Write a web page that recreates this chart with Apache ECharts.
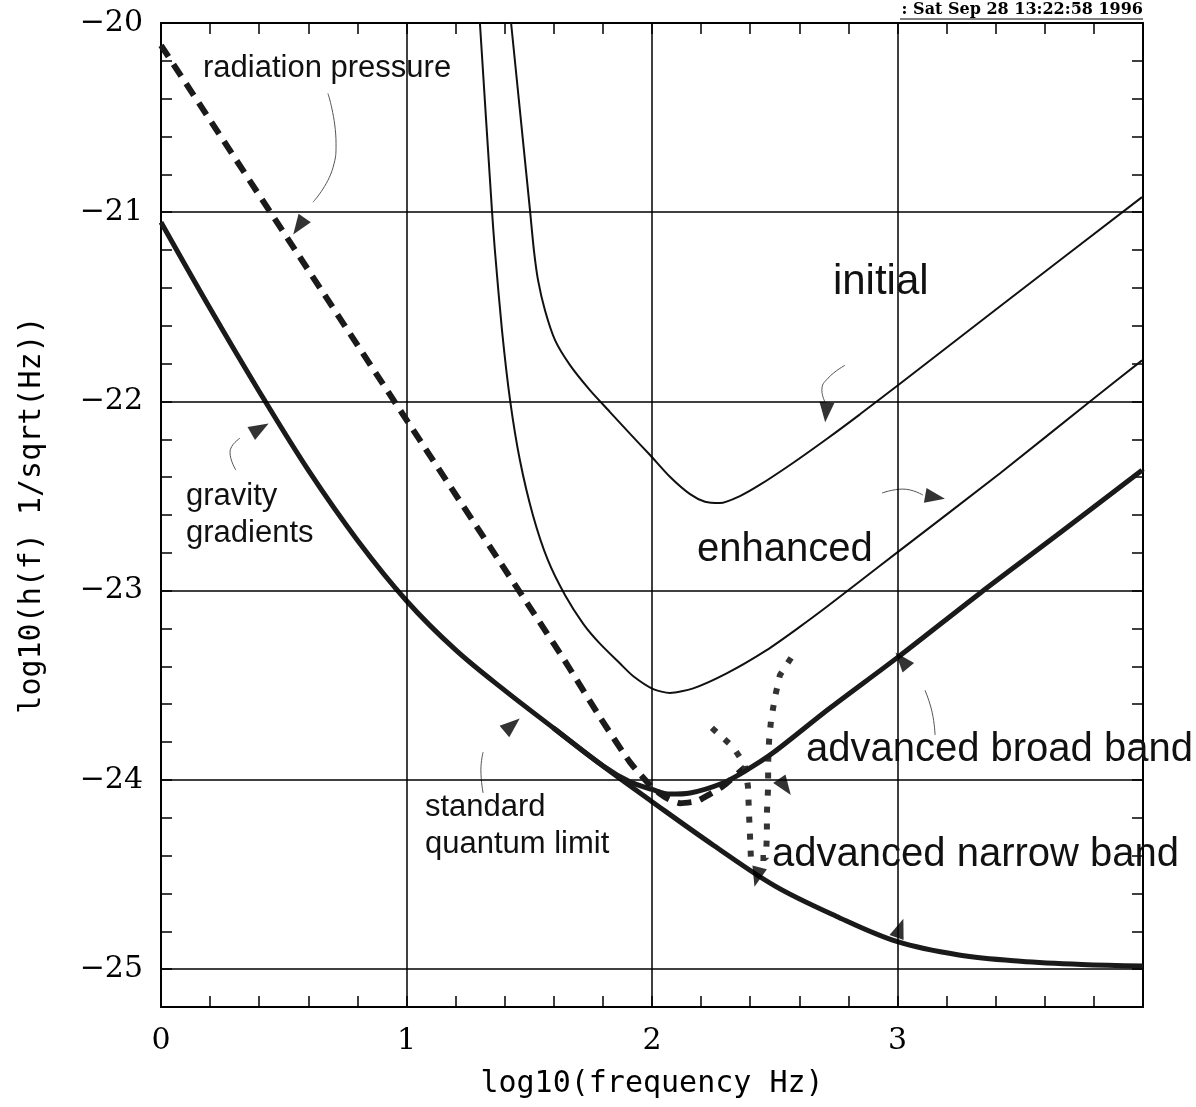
<!DOCTYPE html>
<html><head><meta charset="utf-8">
<script src="https://cdn.jsdelivr.net/npm/echarts@6/dist/echarts.min.js"></script>
<style>html,body{margin:0;padding:0;background:#fff}#c{width:1196px;height:1107px}</style>
</head><body><div id="c"></div>
<script>
// ---- data (x = log10 frequency, y = log10 h(f)) ----
const initialCurve = [[1.426,-20.000],[1.503,-20.989],[1.519,-21.201],[1.536,-21.360],[1.564,-21.518],[1.605,-21.676],[1.666,-21.808],[1.747,-21.940],[1.829,-22.056],[1.910,-22.170],[1.992,-22.283],[2.073,-22.398],[2.155,-22.490],[2.216,-22.530],[2.277,-22.537],[2.358,-22.500],[2.440,-22.440],[2.574,-22.325],[2.713,-22.197],[2.847,-22.068],[3.002,-21.914],[3.418,-21.497],[3.996,-20.920]];
const enhancedCurve = [[1.299,-20.000],[1.348,-20.989],[1.360,-21.201],[1.389,-21.624],[1.422,-21.994],[1.462,-22.311],[1.515,-22.601],[1.576,-22.839],[1.646,-23.024],[1.720,-23.175],[1.788,-23.280],[1.870,-23.385],[1.924,-23.452],[2.005,-23.520],[2.073,-23.540],[2.168,-23.516],[2.304,-23.437],[2.467,-23.314],[2.603,-23.190],[2.712,-23.085],[2.847,-22.950],[3.002,-22.795],[3.418,-22.379],[3.784,-22.000],[3.996,-21.783]];
const broadBandCurve = [[1.600,-23.727],[1.800,-23.925],[1.910,-24.010],[2.000,-24.050],[2.073,-24.075],[2.155,-24.069],[2.289,-24.016],[2.387,-23.947],[2.493,-23.857],[2.725,-23.620],[3.002,-23.351],[3.336,-23.013],[3.650,-22.706],[3.996,-22.363]];
const narrowBandCurve = [[2.244,-23.725],[2.330,-23.826],[2.379,-23.921],[2.391,-24.037],[2.395,-24.175],[2.399,-24.291],[2.403,-24.413],[2.464,-24.413],[2.468,-24.291],[2.468,-24.175],[2.473,-24.037],[2.473,-23.911],[2.477,-23.790],[2.485,-23.684],[2.501,-23.562],[2.521,-23.446],[2.574,-23.340]];
const radiationPressure = [[0.000,-20.118],[0.566,-21.238],[0.974,-22.046],[1.381,-22.849],[1.625,-23.330],[1.788,-23.668],[1.910,-23.906],[2.000,-24.038],[2.053,-24.091],[2.114,-24.123],[2.183,-24.112],[2.236,-24.075],[2.289,-24.033],[2.379,-23.933]];
const quantumLimit = [[0.000,-21.053],[0.200,-21.509],[0.400,-21.947],[0.600,-22.363],[0.800,-22.733],[1.000,-23.053],[1.200,-23.313],[1.400,-23.527],[1.600,-23.727],[1.800,-23.927],[2.000,-24.115],[2.250,-24.345],[2.500,-24.560],[2.750,-24.720],[3.000,-24.855],[3.250,-24.925],[3.500,-24.958],[3.750,-24.975],[4.000,-24.983]];

const xLabelValues = [0, 1, 2, 3];
const xLabelTexts = ['0', '1', '2', '3'];
const yLabelValues = [-20, -21, -22, -23, -24, -25];
const yLabelTexts = ['\u221220', '\u221221', '\u221222', '\u221223', '\u221224', '\u221225'];
const xGridValues = [1, 2, 3];
const yGridValues = [-21, -22, -23, -24, -25];

// annotations (data coordinates)
const arrowHeads = [[0.562,-21.074,145],[0.403,-22.143,-60],[1.430,-23.710,-50],[2.709,-22.057,175],[3.153,-22.505,-100],[3.018,-23.367,40],[2.542,-24.037,215],[2.428,-24.513,165],[3.010,-24.783,-20]];
const leaderRad = [[0.680,-20.372],[0.713,-20.636],[0.701,-20.762],[0.619,-20.947]];
const leaderGrav = [[0.305,-22.363],[0.281,-22.268],[0.322,-22.194]];
const leaderSql = [[1.312,-23.853],[1.303,-23.948],[1.312,-24.069]];
const leaderInit = [[2.786,-21.809],[2.717,-21.877],[2.692,-21.941],[2.705,-22.004]];
const leaderEnh = [[2.937,-22.484],[3.022,-22.463],[3.104,-22.495]];
const leaderBroad = [[3.112,-23.526],[3.141,-23.642],[3.153,-23.763]];
const noteTexts = ['radiation pressure', 'initial', 'enhanced', 'advanced broad band', 'advanced narrow band', 'gravity\ngradients', 'standard\nquantum limit'];
const notePos = [[0.171,-20.239],[2.737,-21.370],[2.183,-22.786],[2.627,-23.843],[2.489,-24.398],[0.102,-22.601],[1.075,-24.244]];
const noteSize = [31, 42, 40, 40, 40, 31, 31];
const stampText = ': Sat Sep 28 13:22:58 1996';

function pickLabel(v, vals, texts) {
  const r = Math.round(v);
  if (Math.abs(v - r) > 1e-6) return '';
  const i = vals.indexOf(r);
  return i < 0 ? '' : texts[i];
}

const axisLineStyle = { show: true, onZero: false, lineStyle: { color: '#000', width: 2 } };
const tickStyle = { show: true, inside: true, length: 11, lineStyle: { color: '#000', width: 1.5 } };
const labelFont = { fontFamily: 'DejaVu Serif', fontSize: 30, color: '#000' };

const chart = echarts.init(document.getElementById('c'), null, { renderer: 'canvas' });

function leader(data) {
  return { type: 'line', data: data, smooth: 0.5, symbol: 'none', silent: true,
    lineStyle: { color: '#555', width: 1 }, z: 3 };
}

const option = {
  animation: false,
  backgroundColor: '#fff',
  grid: { left: 161, top: 23, width: 982, height: 984, containLabel: false },
  xAxis: [
    { type: 'value', min: 0, max: 4, interval: 0.2, position: 'bottom',
      axisLine: axisLineStyle, axisTick: tickStyle, splitLine: { show: false },
      axisLabel: Object.assign({ margin: 19, formatter: v => pickLabel(v, xLabelValues, xLabelTexts) }, labelFont),
      name: 'log10(frequency Hz)', nameLocation: 'middle', nameGap: 62,
      nameTextStyle: { fontFamily: 'DejaVu Sans Mono', fontSize: 30, color: '#000' } },
    { type: 'value', min: 0, max: 4, interval: 0.2, position: 'top',
      axisLine: axisLineStyle, axisTick: tickStyle, splitLine: { show: false }, axisLabel: { show: false } }
  ],
  yAxis: [
    { type: 'value', min: -25.2, max: -20, interval: 0.2, position: 'left',
      axisLine: axisLineStyle, axisTick: tickStyle, splitLine: { show: false },
      axisLabel: Object.assign({ margin: 18, formatter: v => pickLabel(v, yLabelValues, yLabelTexts) }, labelFont),
      name: 'log10(h(f) 1/sqrt(Hz))', nameLocation: 'middle', nameGap: 114,
      nameTextStyle: { fontFamily: 'DejaVu Sans Mono', fontSize: 30, color: '#000' } },
    { type: 'value', min: -25.2, max: -20, interval: 0.2, position: 'right',
      axisLine: axisLineStyle, axisTick: tickStyle, splitLine: { show: false }, axisLabel: { show: false } }
  ],
  series: [
    { name: 'standard quantum limit', type: 'line', data: quantumLimit, smooth: 0.35, symbol: 'none',
      lineStyle: { color: '#1a1a1a', width: 5 }, z: 4,
      markLine: { silent: true, symbol: ['none', 'none'], label: { show: false },
        lineStyle: { color: '#000', width: 1.5, type: 'solid' },
        data: xGridValues.map(v => ({ xAxis: v })).concat(yGridValues.map(v => ({ yAxis: v }))) } },
    { name: 'initial', type: 'line', data: initialCurve, smooth: 0.25, symbol: 'none',
      lineStyle: { color: '#111', width: 2 }, z: 4 },
    { name: 'enhanced', type: 'line', data: enhancedCurve, smooth: 0.25, symbol: 'none',
      lineStyle: { color: '#111', width: 2 }, z: 4 },
    { name: 'radiation pressure', type: 'line', data: radiationPressure, smooth: 0.2, symbol: 'none',
      lineStyle: { color: '#1a1a1a', width: 6, type: [14, 9], cap: 'butt' }, z: 5 },
    { name: 'advanced narrow band', type: 'line', data: narrowBandCurve, smooth: false, symbol: 'none',
      lineStyle: { color: '#333', width: 6, type: [6, 11], cap: 'butt' }, z: 5 },
    { name: 'advanced broad band', type: 'line', data: broadBandCurve, smooth: 0.3, symbol: 'none',
      lineStyle: { color: '#1a1a1a', width: 5 }, z: 6 },
    leader(leaderRad), leader(leaderGrav), leader(leaderSql), leader(leaderInit), leader(leaderEnh), leader(leaderBroad),
    { name: 'arrows', type: 'scatter', silent: true, z: 7,
      data: arrowHeads.map(a => ({ value: [a[0], a[1]], symbolRotate: a[2] })),
      symbol: 'triangle', symbolSize: [15, 20], itemStyle: { color: '#000' } }
  ]
};
chart.setOption(option);

const g = notePos.map((p, i) => {
  const px = chart.convertToPixel({ xAxisIndex: 0, yAxisIndex: 0 }, p);
  return { type: 'text', x: px[0], y: px[1], z: 10, silent: true,
    style: { text: noteTexts[i], fill: '#111', font: noteSize[i] + 'px "Liberation Sans", Arial, sans-serif',
      lineHeight: Math.round(noteSize[i] * 1.2), align: 'left', verticalAlign: 'middle',
      textAlign: 'left', textVerticalAlign: 'middle' } };
});
g.push({ type: 'text', right: 53, top: 2, z: 10, silent: true,
  style: { text: stampText, fill: '#000', font: 'bold 16px "DejaVu Serif", serif' } });
g.push({ type: 'line', z: 10, silent: true, shape: { x1: 900, y1: 19, x2: 1143, y2: 19 },
  style: { stroke: '#000', lineWidth: 1.2 } });
chart.setOption({ graphic: g });
</script>
</body></html>
